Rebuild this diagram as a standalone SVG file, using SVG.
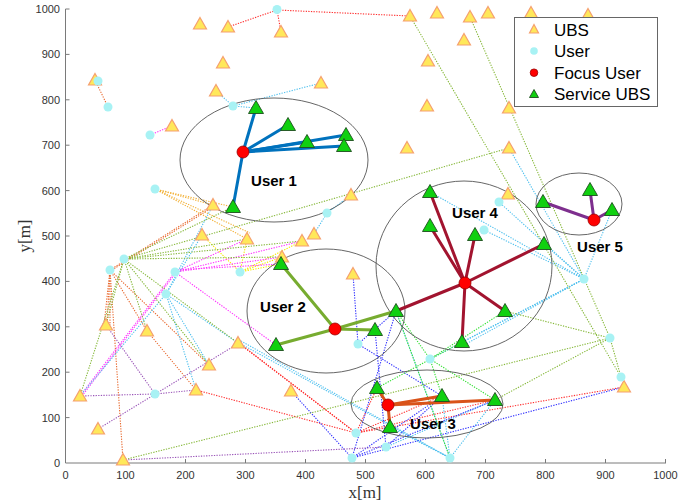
<svg xmlns="http://www.w3.org/2000/svg" xmlns:xlink="http://www.w3.org/1999/xlink" width="691" height="504" viewBox="0 0 691 504">
<style>
.d{fill:none;stroke-width:1.1;stroke-dasharray:1.3 1.3}
.r{stroke:#ff3030}.o{stroke:#e86a30}.lo{stroke:#f2b035}.y{stroke:#f5e800}.m{stroke:#ff30ff}
.lb{stroke:#50c0ee}.b{stroke:#3030ff}.g{stroke:#86b83a}.lg{stroke:#30e030}.p{stroke:#9a55b8}
.ax{stroke:#7a7a7a;stroke-width:1;fill:none}
.tk{font-family:"Liberation Sans",Arial,sans-serif;font-size:11px;fill:#333}
.el{fill:none;stroke:#555;stroke-width:0.9}
.s{stroke-width:3;fill:none;stroke-linecap:round}
.lab{font-family:"Liberation Sans",Arial,sans-serif;font-size:15px;font-weight:bold;fill:#000;text-anchor:middle}
.lg-t{font-family:"Liberation Sans",Arial,sans-serif;font-size:17px;fill:#000}
.ubs{fill:#ffe85a;stroke:#f5a070;stroke-width:1.2}
.usr{fill:#a8f2f4}
.svc{fill:#10d010;stroke:#1d4d1d;stroke-width:0.9}
.foc{fill:#ff0000;stroke:#900;stroke-width:0.8}
</style>
<defs>
<path id="tu" d="M0,-6.5 L6.5,5 L-6.5,5 Z"/>
<path id="ts" d="M0,-7.5 L7.5,5.5 L-7.5,5.5 Z"/>
</defs>
<rect width="691" height="504" fill="#fff"/>

<g id="connectors">
<!-- red -->
<polyline class="d r" points="228,27 277,10 410,16"/>
<line class="d r" x1="277" y1="10" x2="281" y2="32"/>
<line class="d r" x1="196" y1="390" x2="356" y2="433"/>
<line class="d r" x1="239" y1="343" x2="356" y2="433"/>
<line class="d r" x1="241" y1="345" x2="356" y2="433"/>
<line class="d r" x1="356" y1="433" x2="377" y2="388"/>
<line class="d r" x1="356" y1="433" x2="442" y2="396"/>
<line class="d r" x1="356" y1="433" x2="495" y2="400"/>
<line class="d r" x1="356" y1="433" x2="624" y2="387"/>
<!-- dark orange -->
<line class="d o" x1="95" y1="80" x2="108" y2="107"/>
<line class="d o" x1="110" y1="270" x2="213" y2="205"/>
<line class="d o" x1="112" y1="270" x2="213" y2="207"/>
<line class="d o" x1="110" y1="270" x2="104" y2="325"/>
<line class="d o" x1="110" y1="270" x2="107" y2="325"/>
<line class="d o" x1="110" y1="270" x2="110" y2="325"/>
<line class="d o" x1="110" y1="270" x2="147" y2="331"/>
<line class="d o" x1="110" y1="270" x2="209" y2="365"/>
<line class="d o" x1="110" y1="270" x2="123" y2="460"/>
<line class="d o" x1="147" y1="331" x2="196" y2="390"/>
<!-- light orange -->
<line class="d lo" x1="155" y1="189" x2="213" y2="205"/>
<line class="d lo" x1="155" y1="189" x2="233" y2="207"/>
<line class="d lo" x1="155" y1="189" x2="247" y2="239"/>
<line class="d lo" x1="155" y1="189" x2="250" y2="233"/>
<!-- yellow -->
<line class="d y" x1="202" y1="235" x2="240" y2="272"/>
<line class="d y" x1="240" y1="272" x2="302" y2="241"/>
<line class="d y" x1="240" y1="272" x2="282" y2="257"/>
<line class="d y" x1="240" y1="272" x2="281" y2="264"/>
<line class="d y" x1="247" y1="239" x2="240" y2="272"/>
<!-- magenta -->
<line class="d m" x1="150" y1="135" x2="172" y2="126"/>
<line class="d m" x1="175" y1="272" x2="247" y2="239"/>
<line class="d m" x1="175" y1="272" x2="282" y2="257"/>
<line class="d m" x1="175" y1="270" x2="281" y2="264"/>
<line class="d m" x1="175" y1="272" x2="302" y2="241"/>
<line class="d m" x1="175" y1="272" x2="276" y2="345"/>
<line class="d m" x1="80" y1="396" x2="175" y2="272"/>
<line class="d m" x1="82" y1="396" x2="175" y2="274"/>
<!-- light blue -->
<polyline class="d lb" points="216,91 233,106 321,83"/>
<line class="d lb" x1="233" y1="106" x2="256" y2="108"/>
<polyline class="d lb" points="351,195 327,213 314,234"/>
<line class="d lb" x1="509" y1="148" x2="584" y2="279"/>
<line class="d lb" x1="584" y1="279" x2="499" y2="202"/>
<line class="d lb" x1="584" y1="279" x2="484" y2="230"/>
<line class="d lb" x1="584" y1="279" x2="430" y2="192"/>
<line class="d lb" x1="584" y1="279" x2="544" y2="244"/>
<line class="d lb" x1="584" y1="279" x2="462" y2="342"/>
<line class="d lb" x1="584" y1="279" x2="464" y2="345"/>
<line class="d lb" x1="584" y1="279" x2="612" y2="210"/>
<line class="d lb" x1="584" y1="279" x2="430" y2="359"/>
<line class="d lb" x1="166" y1="294" x2="202" y2="235"/>
<line class="d lb" x1="166" y1="294" x2="80" y2="396"/>
<line class="d lb" x1="166" y1="294" x2="196" y2="390"/>
<line class="d lb" x1="166" y1="294" x2="209" y2="365"/>
<line class="d lb" x1="166" y1="294" x2="238" y2="343"/>
<line class="d lb" x1="166" y1="294" x2="213" y2="205"/>
<line class="d lb" x1="239" y1="343" x2="450" y2="458"/>
<line class="d lb" x1="241" y1="341" x2="450" y2="458"/>
<line class="d lb" x1="450" y1="458" x2="442" y2="396"/>
<line class="d lb" x1="450" y1="458" x2="495" y2="400"/>
<line class="d lb" x1="450" y1="458" x2="390" y2="427"/>
<line class="d lb" x1="450" y1="458" x2="396" y2="311"/>
<line class="d lb" x1="386" y1="447" x2="495" y2="400"/>
<!-- blue -->
<line class="d b" x1="353" y1="274" x2="358" y2="344"/>
<line class="d b" x1="358" y1="344" x2="396" y2="311"/>
<line class="d b" x1="358" y1="344" x2="442" y2="396"/>
<line class="d b" x1="291" y1="391" x2="352" y2="458"/>
<line class="d b" x1="352" y1="458" x2="624" y2="387"/>
<line class="d b" x1="352" y1="458" x2="442" y2="396"/>
<line class="d b" x1="352" y1="458" x2="495" y2="400"/>
<line class="d b" x1="352" y1="458" x2="396" y2="311"/>
<line class="d b" x1="386" y1="447" x2="442" y2="396"/>
<line class="d b" x1="386" y1="447" x2="375" y2="330"/>
<!-- lime -->
<line class="d lg" x1="430" y1="359" x2="396" y2="311"/>
<line class="d lg" x1="430" y1="359" x2="505" y2="311"/>
<line class="d lg" x1="430" y1="359" x2="442" y2="396"/>
<line class="d lg" x1="396" y1="311" x2="450" y2="458"/>
<line class="d lg" x1="462" y1="342" x2="377" y2="388"/>
<line class="d lg" x1="430" y1="359" x2="495" y2="400"/>
<!-- olive green -->
<line class="d g" x1="410" y1="16" x2="621" y2="377"/>
<line class="d g" x1="470" y1="17" x2="610" y2="338"/>
<line class="d g" x1="124" y1="259" x2="509" y2="148"/>
<line class="d g" x1="123" y1="460" x2="610" y2="338"/>
<line class="d g" x1="80" y1="396" x2="124" y2="259"/>
<line class="d g" x1="495" y1="400" x2="610" y2="338"/>
<line class="d g" x1="610" y1="338" x2="621" y2="377"/>
<line class="d g" x1="505" y1="311" x2="610" y2="338"/>
<line class="d g" x1="124" y1="259" x2="247" y2="239"/>
<line class="d g" x1="124" y1="259" x2="282" y2="257"/>
<line class="d g" x1="124" y1="259" x2="302" y2="241"/>
<line class="d g" x1="124" y1="259" x2="233" y2="207"/>
<line class="d g" x1="124" y1="259" x2="238" y2="343"/>
<line class="d g" x1="124" y1="259" x2="209" y2="365"/>
<line class="d g" x1="124" y1="259" x2="147" y2="331"/>
<line class="d g" x1="124" y1="259" x2="106" y2="325"/>
<!-- purple -->
<polyline class="d p" points="80,396 155,394 196,390"/>
<line class="d p" x1="98" y1="429" x2="239" y2="343"/>
<line class="d p" x1="106" y1="325" x2="155" y2="394"/>
<line class="d p" x1="123" y1="460" x2="386" y2="447"/>
</g>

<g id="axes">
<path class="ax" d="M65.5,9 V463 H666"/>
<path class="ax" d="M65.5,417.6h4M65.5,372.2h4M65.5,326.8h4M65.5,281.4h4M65.5,236h4M65.5,190.6h4M65.5,145.2h4M65.5,99.8h4M65.5,54.4h4M65.5,9h4"/>
<path class="ax" d="M125.5,463v-4M185.5,463v-4M245.5,463v-4M305.5,463v-4M365.5,463v-4M425.5,463v-4M485.5,463v-4M545.5,463v-4M605.5,463v-4M665.5,463v-4"/>
<g class="tk" text-anchor="end">
<text x="60" y="467">0</text><text x="60" y="421.6">100</text><text x="60" y="376.2">200</text><text x="60" y="330.8">300</text><text x="60" y="285.4">400</text><text x="60" y="240">500</text><text x="60" y="194.6">600</text><text x="60" y="149.2">700</text><text x="60" y="103.8">800</text><text x="60" y="58.4">900</text><text x="60" y="13">1000</text>
</g>
<g class="tk" text-anchor="middle">
<text x="65.5" y="479">0</text><text x="125.5" y="479">100</text><text x="185.5" y="479">200</text><text x="245.5" y="479">300</text><text x="305.5" y="479">400</text><text x="365.5" y="479">500</text><text x="425.5" y="479">600</text><text x="485.5" y="479">700</text><text x="545.5" y="479">800</text><text x="605.5" y="479">900</text><text x="665.5" y="479">1000</text>
</g>
<text x="365" y="498" text-anchor="middle" font-family="'Liberation Serif',serif" font-size="17" fill="#333">x[m]</text>
<text transform="translate(30,236) rotate(-90)" text-anchor="middle" font-family="'Liberation Serif',serif" font-size="17" fill="#333">y[m]</text>
</g>

<g id="ellipses">
<ellipse class="el" cx="274" cy="160" rx="94" ry="62"/>
<ellipse class="el" cx="326" cy="311" rx="79" ry="62"/>
<ellipse class="el" cx="464" cy="266" rx="88" ry="85"/>
<ellipse class="el" cx="579" cy="204" rx="43" ry="31"/>
<ellipse class="el" cx="427" cy="404" rx="76" ry="34"/>
</g>

<g id="ubs">
<use href="#tu" class="ubs" x="200" y="24"/><use href="#tu" class="ubs" x="228" y="27"/><use href="#tu" class="ubs" x="223" y="63"/>
<use href="#tu" class="ubs" x="216" y="91"/><use href="#tu" class="ubs" x="95" y="80"/><use href="#tu" class="ubs" x="172" y="126"/>
<use href="#tu" class="ubs" x="281" y="32"/><use href="#tu" class="ubs" x="410" y="16"/><use href="#tu" class="ubs" x="437" y="13"/>
<use href="#tu" class="ubs" x="464" y="40"/><use href="#tu" class="ubs" x="428" y="61"/><use href="#tu" class="ubs" x="427" y="106"/>
<use href="#tu" class="ubs" x="407" y="148"/><use href="#tu" class="ubs" x="321" y="83"/><use href="#tu" class="ubs" x="470" y="17"/>
<use href="#tu" class="ubs" x="488" y="13"/><use href="#tu" class="ubs" x="531" y="13"/><use href="#tu" class="ubs" x="588" y="15"/>
<use href="#tu" class="ubs" x="509" y="108"/><use href="#tu" class="ubs" x="509" y="148"/>
<use href="#tu" class="ubs" x="213" y="205"/><use href="#tu" class="ubs" x="202" y="235"/><use href="#tu" class="ubs" x="351" y="195"/>
<use href="#tu" class="ubs" x="314" y="234"/><use href="#tu" class="ubs" x="247" y="239"/><use href="#tu" class="ubs" x="302" y="241"/>
<use href="#tu" class="ubs" x="282" y="257"/><use href="#tu" class="ubs" x="353" y="274"/><use href="#tu" class="ubs" x="508" y="194"/>
<use href="#tu" class="ubs" x="106" y="325"/><use href="#tu" class="ubs" x="147" y="331"/><use href="#tu" class="ubs" x="238" y="343"/>
<use href="#tu" class="ubs" x="209" y="365"/><use href="#tu" class="ubs" x="80" y="396"/><use href="#tu" class="ubs" x="196" y="390"/>
<use href="#tu" class="ubs" x="98" y="429"/><use href="#tu" class="ubs" x="123" y="460"/><use href="#tu" class="ubs" x="291" y="391"/>
<use href="#tu" class="ubs" x="624" y="387"/>
</g>

<g id="users">
<circle class="usr" cx="98" cy="81" r="4.5"/><circle class="usr" cx="108" cy="107" r="4.5"/><circle class="usr" cx="150" cy="135" r="4.5"/>
<circle class="usr" cx="277" cy="9.5" r="4.5"/><circle class="usr" cx="233" cy="106" r="4.5"/><circle class="usr" cx="155" cy="189" r="4.5"/>
<circle class="usr" cx="124" cy="259" r="4.5"/><circle class="usr" cx="110" cy="270" r="4.5"/><circle class="usr" cx="175" cy="272" r="4.5"/>
<circle class="usr" cx="166" cy="294" r="4.5"/><circle class="usr" cx="240" cy="272" r="4.5"/><circle class="usr" cx="327" cy="213" r="4.5"/>
<circle class="usr" cx="499" cy="202" r="4.5"/><circle class="usr" cx="484" cy="230" r="4.5"/><circle class="usr" cx="584" cy="279" r="4.5"/>
<circle class="usr" cx="155" cy="394" r="4.5"/><circle class="usr" cx="358" cy="344" r="4.5"/><circle class="usr" cx="430" cy="359" r="4.5"/>
<circle class="usr" cx="356" cy="433" r="4.5"/><circle class="usr" cx="386" cy="447" r="4.5"/><circle class="usr" cx="352" cy="458" r="4.5"/>
<circle class="usr" cx="450" cy="458" r="4.5"/><circle class="usr" cx="610" cy="338" r="4.5"/><circle class="usr" cx="621" cy="377" r="4.5"/>
</g>

<g id="user1">
<g class="s" stroke="#0072bd">
<line x1="243" y1="152" x2="256" y2="108"/><line x1="243" y1="152" x2="288" y2="125"/><line x1="243" y1="152" x2="307" y2="142"/>
<line x1="243" y1="152" x2="346" y2="135"/><line x1="243" y1="152" x2="344" y2="146"/><line x1="243" y1="152" x2="233" y2="207"/>
</g>
<use href="#ts" class="svc" x="256" y="108"/><use href="#ts" class="svc" x="288" y="125"/><use href="#ts" class="svc" x="307" y="142"/>
<use href="#ts" class="svc" x="346" y="135"/><use href="#ts" class="svc" x="344" y="146"/><use href="#ts" class="svc" x="233" y="207"/>
<circle class="foc" cx="243" cy="152" r="6"/>
<text class="lab" x="274" y="186">User 1</text>
</g>

<g id="user2">
<g class="s" stroke="#77ac30">
<line x1="335" y1="329" x2="281" y2="264"/><line x1="335" y1="329" x2="396" y2="311"/><line x1="335" y1="329" x2="375" y2="330"/><line x1="335" y1="329" x2="276" y2="345"/>
</g>
<use href="#ts" class="svc" x="281" y="264"/><use href="#ts" class="svc" x="375" y="330"/><use href="#ts" class="svc" x="276" y="345"/>
<circle class="foc" cx="335" cy="329" r="6"/>
<text class="lab" x="283" y="312">User 2</text>
</g>

<g id="user3">
<g class="s" stroke="#d95319">
<line x1="388" y1="405" x2="377" y2="388"/><line x1="388" y1="405" x2="442" y2="396"/><line x1="388" y1="405" x2="390" y2="427"/><line x1="388" y1="405" x2="495" y2="400"/>
</g>
<use href="#ts" class="svc" x="377" y="388"/><use href="#ts" class="svc" x="442" y="396"/><use href="#ts" class="svc" x="390" y="427"/><use href="#ts" class="svc" x="495" y="400"/>
<circle class="foc" cx="388" cy="405" r="6"/>
<text class="lab" x="433" y="429">User 3</text>
</g>

<g id="user4">
<g class="s" stroke="#a2142f">
<line x1="465" y1="283" x2="430" y2="192"/><line x1="465" y1="283" x2="430" y2="226"/><line x1="465" y1="283" x2="475" y2="235"/>
<line x1="465" y1="283" x2="544" y2="244"/><line x1="465" y1="283" x2="505" y2="311"/><line x1="465" y1="283" x2="462" y2="342"/>
<line x1="465" y1="283" x2="396" y2="311"/>
</g>
<use href="#ts" class="svc" x="430" y="192"/><use href="#ts" class="svc" x="430" y="226"/><use href="#ts" class="svc" x="475" y="235"/>
<use href="#ts" class="svc" x="544" y="244"/><use href="#ts" class="svc" x="505" y="311"/><use href="#ts" class="svc" x="462" y="342"/>
<use href="#ts" class="svc" x="396" y="311"/>
<circle class="foc" cx="465" cy="283" r="6"/>
<text class="lab" x="475" y="218">User 4</text>
</g>

<g id="user5">
<g class="s" stroke="#7e2f8e">
<line x1="594" y1="220" x2="590" y2="190"/><line x1="594" y1="220" x2="612" y2="210"/><line x1="594" y1="220" x2="543" y2="202"/>
</g>
<use href="#ts" class="svc" x="590" y="190"/><use href="#ts" class="svc" x="612" y="210"/><use href="#ts" class="svc" x="543" y="202"/>
<circle class="foc" cx="594" cy="220" r="6"/>
<text class="lab" x="600" y="252">User 5</text>
</g>

<g id="legend">
<rect x="514.5" y="17.5" width="143" height="89" fill="#fff" stroke="#666" stroke-width="1"/>
<path class="ubs" d="M534,24.5 L538.5,33 L529.5,33 Z"/>
<circle class="usr" cx="534" cy="51" r="3.8"/>
<circle class="foc" cx="534" cy="72.7" r="3.8"/>
<path class="svc" d="M534,89.5 L538.5,97.5 L529.5,97.5 Z"/>
<text class="lg-t" x="554" y="35.5">UBS</text>
<text class="lg-t" x="554" y="57">User</text>
<text class="lg-t" x="554" y="78.7">Focus User</text>
<text class="lg-t" x="554" y="100.3">Service UBS</text>
</g>
</svg>
